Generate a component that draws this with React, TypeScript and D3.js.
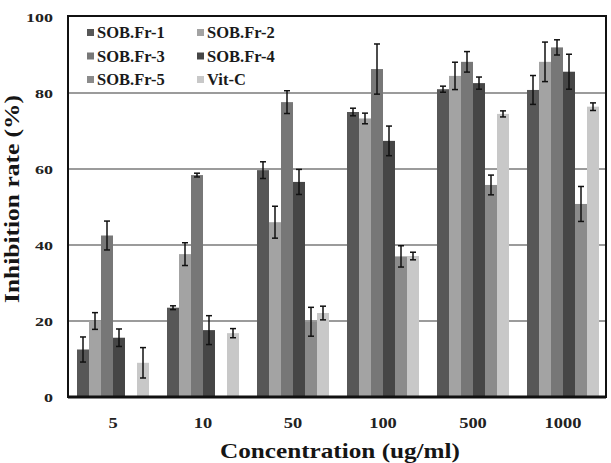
import React from "react";
import * as d3 from "d3";

const WIDTH = 611;
const HEIGHT = 463;

const concentrations = ["5", "10", "50", "100", "500", "1000"];
const seriesNames = ["SOB.Fr-1", "SOB.Fr-2", "SOB.Fr-3", "SOB.Fr-4", "SOB.Fr-5", "Vit-C"];
const seriesColors = ["#575757", "#a3a3a3", "#777777", "#464646", "#8b8b8b", "#c8c8c8"];

// mean inhibition (%) per series, one entry per concentration
const fr1 = [12.5, 23.5, 59.7, 75, 81, 80.8];
const fr2 = [20, 37.6, 46, 73.3, 84.5, 88.2];
const fr3 = [42.5, 58.4, 77.6, 86.3, 88.2, 92];
const fr4 = [15.6, 17.6, 56.6, 67.4, 82.6, 85.6];
const fr5 = [0, 0, 19.8, 37, 55.8, 50.8];
const vitC = [9, 16.8, 22.1, 37.1, 74.5, 76.4];

// standard deviations
const fr1Err = [3.3, 0.5, 2.2, 1, 0.8, 3.8];
const fr2Err = [2.2, 3, 4.2, 1.4, 3.6, 5.2];
const fr3Err = [3.8, 0.5, 3, 6.6, 2.7, 2];
const fr4Err = [2.3, 3.8, 3.3, 3.9, 1.6, 4.6];
const fr5Err = [0, 0, 3.8, 2.8, 2.6, 4.6];
const vitCErr = [4, 1.2, 1.8, 1, 0.8, 1];

const yTicks = [0, 20, 40, 60, 80, 100];

const means = [fr1, fr2, fr3, fr4, fr5, vitC];
const errors = [fr1Err, fr2Err, fr3Err, fr4Err, fr5Err, vitCErr];

const LEFT = 68;
const RIGHT = 608;
const TOP = 17;
const BOTTOM = 397;
const FONT = "'Liberation Serif', 'Times New Roman', serif";

export default function App() {
  const x = d3
    .scaleBand()
    .domain(concentrations)
    .range([LEFT, RIGHT])
    .paddingInner(0.2)
    .paddingOuter(0.1);

  const xInner = d3.scaleBand().domain(seriesNames).range([0, x.bandwidth()]);

  const y = d3.scaleLinear().domain([0, 100]).range([BOTTOM, TOP]);

  const bars = concentrations.map((c, ci) => (
    <g key={c} transform={`translate(${x(c)},0)`}>
      {seriesNames.map((s, si) => {
        const v = means[si][ci];
        if (!v) return null;
        const bx = xInner(s) ?? 0;
        const cx = bx + xInner.bandwidth() / 2;
        const e = errors[si][ci];
        return (
          <g key={s}>
            <rect
              x={bx}
              y={y(v)}
              width={xInner.bandwidth()}
              height={y(0) - y(v)}
              fill={seriesColors[si]}
            />
            <g stroke="#111" strokeWidth={1.5}>
              <line x1={cx} x2={cx} y1={y(v + e)} y2={y(v - e)} />
              <line x1={cx - 3} x2={cx + 3} y1={y(v + e)} y2={y(v + e)} />
              <line x1={cx - 3} x2={cx + 3} y1={y(v - e)} y2={y(v - e)} />
            </g>
          </g>
        );
      })}
    </g>
  ));

  return (
    <svg
      width={WIDTH}
      height={HEIGHT}
      style={{ position: "absolute", left: 0, top: 0, background: "#fff" }}
      fontFamily={FONT}
      fontWeight="bold"
    >
      {/* horizontal grid */}
      {yTicks.slice(1, -1).map((t) => (
        <line key={t} x1={LEFT} x2={606} y1={y(t)} y2={y(t)} stroke="#7a7a7a" strokeWidth={1.5} />
      ))}

      {bars}

      {/* frame */}
      <rect x={LEFT} y={TOP - 1} width={606 - LEFT} height={BOTTOM - TOP + 1} fill="none" stroke="#111" strokeWidth={2} />
      <line x1={LEFT} x2={606} y1={BOTTOM} y2={BOTTOM} stroke="#111" strokeWidth={3} />

      {/* y tick labels */}
      {yTicks.map((t) => (
        <text
          key={t}
          x={53}
          y={y(t) + 4.5}
          textAnchor="end"
          fontSize={13.5}
          fill="#222"
          textLength={String(t).length * 9}
          lengthAdjust="spacingAndGlyphs"
        >
          {t}
        </text>
      ))}

      {/* x tick labels */}
      {concentrations.map((c) => (
        <text
          key={c}
          x={(x(c) ?? 0) + x.bandwidth() / 2}
          y={428}
          textAnchor="middle"
          fontSize={15.5}
          fill="#222"
          textLength={c.length * 9.2}
          lengthAdjust="spacingAndGlyphs"
        >
          {c}
        </text>
      ))}

      {/* axis titles */}
      <text x={340} y={458} textAnchor="middle" fontSize={22} fill="#151515" textLength={240} lengthAdjust="spacingAndGlyphs">
        Concentration (ug/ml)
      </text>
      <text
        transform={`translate(19,${199}) rotate(-90)`}
        textAnchor="middle"
        fontSize={21.5}
        fill="#151515"
        textLength={208}
        lengthAdjust="spacingAndGlyphs"
      >
        Inhibition rate (%)
      </text>

      {/* legend */}
      {seriesNames.map((s, i) => {
        const col = i % 2;
        const row = Math.floor(i / 2);
        const lx = 87 + col * 110;
        const ly = 38 + row * 23.5;
        return (
          <g key={s}>
            <rect x={lx} y={ly - 9} width={7} height={7} fill={seriesColors[i]} />
            <text x={lx + 10} y={ly} fontSize={16.5} fill="#1a1a1a">
              {s}
            </text>
          </g>
        );
      })}
    </svg>
  );
}
